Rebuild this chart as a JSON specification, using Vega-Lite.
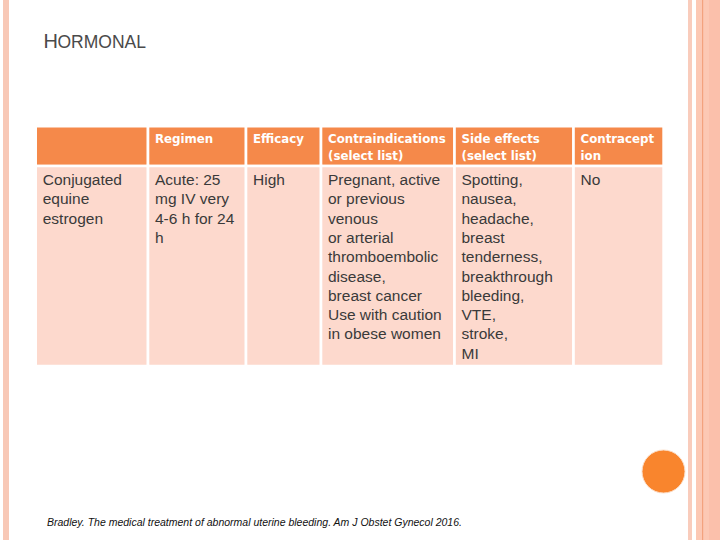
{
  "$schema": "https://vega.github.io/schema/vega-lite/v6.json",
  "width": 720,
  "height": 540,
  "padding": 0,
  "autosize": {"type": "none"},
  "background": "white",
  "config": {"view": {"stroke": null}},
  "resolve": {"scale": {"x": "independent", "y": "independent"}},
  "layer": [
    {
      "data": {"values": [{"part": "title_initial", "text": "H"}, {"part": "title_rest", "text": "ORMONAL"}, {"part": "source", "text": "Bradley. The medical treatment of abnormal uterine bleeding. Am J Obstet Gynecol 2016."}]},
      "layer": [
        {
          "transform": [{"filter": "datum.part === 'title_initial'"}],
          "mark": {"type": "rect", "fill": "#F8C8B6"},
          "encoding": {
            "x": {"datum": 3, "type": "quantitative", "scale": {"domain": [0, 720], "nice": false, "zero": false}, "axis": null},
            "x2": {"datum": 9},
            "y": {"datum": 0, "type": "quantitative", "scale": {"domain": [0, 540], "nice": false, "zero": false, "reverse": true}, "axis": null},
            "y2": {"datum": 540}
          }
        },
        {
          "transform": [{"filter": "datum.part === 'title_initial'"}],
          "mark": {"type": "rect", "fill": "#F9CCBC"},
          "encoding": {
            "x": {"datum": 688, "type": "quantitative", "scale": {"domain": [0, 720], "nice": false, "zero": false}, "axis": null},
            "x2": {"datum": 692},
            "y": {"datum": 0, "type": "quantitative", "scale": {"domain": [0, 540], "nice": false, "zero": false, "reverse": true}, "axis": null},
            "y2": {"datum": 540}
          }
        },
        {
          "transform": [{"filter": "datum.part === 'title_initial'"}],
          "mark": {"type": "rect", "fill": "#FCC8B4"},
          "encoding": {
            "x": {"datum": 696, "type": "quantitative", "scale": {"domain": [0, 720], "nice": false, "zero": false}, "axis": null},
            "x2": {"datum": 709},
            "y": {"datum": 0, "type": "quantitative", "scale": {"domain": [0, 540], "nice": false, "zero": false, "reverse": true}, "axis": null},
            "y2": {"datum": 540}
          }
        },
        {
          "transform": [{"filter": "datum.part === 'title_initial'"}],
          "mark": {"type": "rect", "fill": "#F3A27E"},
          "encoding": {
            "x": {"datum": 702, "type": "quantitative", "scale": {"domain": [0, 720], "nice": false, "zero": false}, "axis": null},
            "x2": {"datum": 703.2},
            "y": {"datum": 0, "type": "quantitative", "scale": {"domain": [0, 540], "nice": false, "zero": false, "reverse": true}, "axis": null},
            "y2": {"datum": 540}
          }
        },
        {
          "transform": [{"filter": "datum.part === 'title_initial'"}],
          "mark": {"type": "rect", "fill": "#FBC0AB"},
          "encoding": {
            "x": {"datum": 709, "type": "quantitative", "scale": {"domain": [0, 720], "nice": false, "zero": false}, "axis": null},
            "x2": {"datum": 720},
            "y": {"datum": 0, "type": "quantitative", "scale": {"domain": [0, 540], "nice": false, "zero": false, "reverse": true}, "axis": null},
            "y2": {"datum": 540}
          }
        },
        {
          "transform": [{"filter": "datum.part === 'title_initial'"}],
          "mark": {"type": "point", "filled": true, "fill": "#F9852D", "stroke": "#FCE0CC", "strokeWidth": 1, "opacity": 1, "size": 1850},
          "encoding": {
            "x": {"datum": 663.5, "type": "quantitative", "scale": {"domain": [0, 720], "nice": false, "zero": false}, "axis": null},
            "y": {"datum": 471.5, "type": "quantitative", "scale": {"domain": [0, 540], "nice": false, "zero": false, "reverse": true}, "axis": null}
          }
        },
        {
          "transform": [{"filter": "datum.part === 'title_initial'"}],
          "mark": {"type": "text", "align": "left", "baseline": "alphabetic", "font": "Liberation Sans", "fontSize": 20, "fill": "#4A4A4A"},
          "encoding": {
            "x": {"datum": 43.5, "type": "quantitative", "scale": {"domain": [0, 720], "nice": false, "zero": false}, "axis": null},
            "y": {"datum": 47.5, "type": "quantitative", "scale": {"domain": [0, 540], "nice": false, "zero": false, "reverse": true}, "axis": null},
            "text": {"field": "text"}
          }
        },
        {
          "transform": [{"filter": "datum.part === 'title_rest'"}],
          "mark": {"type": "text", "align": "left", "baseline": "alphabetic", "font": "Liberation Sans", "fontSize": 17.5, "fill": "#4A4A4A"},
          "encoding": {
            "x": {"datum": 57.5, "type": "quantitative", "scale": {"domain": [0, 720], "nice": false, "zero": false}, "axis": null},
            "y": {"datum": 47.5, "type": "quantitative", "scale": {"domain": [0, 540], "nice": false, "zero": false, "reverse": true}, "axis": null},
            "text": {"field": "text"}
          }
        },
        {
          "transform": [{"filter": "datum.part === 'source'"}],
          "mark": {"type": "text", "align": "left", "baseline": "alphabetic", "font": "Liberation Sans", "fontStyle": "italic", "fontSize": 10.5, "fill": "#111111"},
          "encoding": {
            "x": {"datum": 47, "type": "quantitative", "scale": {"domain": [0, 720], "nice": false, "zero": false}, "axis": null},
            "y": {"datum": 525.5, "type": "quantitative", "scale": {"domain": [0, 540], "nice": false, "zero": false, "reverse": true}, "axis": null},
            "text": {"field": "text"}
          }
        }
      ]
    },
    {
      "data": {"values": [
        {"section": "header", "row": 0, "rowEnd": 1, "col": 0, "colEnd": 1, "text": ""},
        {"section": "header", "row": 0, "rowEnd": 1, "col": 1, "colEnd": 2, "text": "Regimen"},
        {"section": "header", "row": 0, "rowEnd": 1, "col": 2, "colEnd": 3, "text": "Efficacy"},
        {"section": "header", "row": 0, "rowEnd": 1, "col": 3, "colEnd": 4, "text": "Contraindications\n(select list)"},
        {"section": "header", "row": 0, "rowEnd": 1, "col": 4, "colEnd": 5, "text": "Side effects\n(select  list)"},
        {"section": "header", "row": 0, "rowEnd": 1, "col": 5, "colEnd": 6, "text": "Contracept\nion"},
        {"section": "body", "row": 1, "rowEnd": 2, "col": 0, "colEnd": 1, "text": "Conjugated\nequine\nestrogen"},
        {"section": "body", "row": 1, "rowEnd": 2, "col": 1, "colEnd": 2, "text": "Acute: 25\nmg IV very\n4-6 h for 24\nh"},
        {"section": "body", "row": 1, "rowEnd": 2, "col": 2, "colEnd": 3, "text": "High"},
        {"section": "body", "row": 1, "rowEnd": 2, "col": 3, "colEnd": 4, "text": "Pregnant, active\nor previous\nvenous\nor arterial\nthromboembolic\ndisease,\nbreast cancer\nUse with caution\nin obese women"},
        {"section": "body", "row": 1, "rowEnd": 2, "col": 4, "colEnd": 5, "text": "Spotting,\nnausea,\nheadache,\nbreast\ntenderness,\nbreakthrough\nbleeding,\nVTE,\nstroke,\nMI"},
        {"section": "body", "row": 1, "rowEnd": 2, "col": 5, "colEnd": 6, "text": "No"}
      ]},
      "encoding": {
        "x": {"field": "col", "type": "quantitative", "scale": {"domain": [0, 1, 2, 3, 4, 5, 6], "range": [35.7, 148, 246, 321, 454.5, 573.5, 663.6], "nice": false, "zero": false}, "axis": null},
        "y": {"field": "row", "type": "quantitative", "scale": {"domain": [0, 1, 2], "range": [126.3, 166, 366], "nice": false, "zero": false}, "axis": null}
      },
      "layer": [
        {
          "mark": {"type": "rect", "stroke": "white", "strokeWidth": 2.6},
          "encoding": {
            "x2": {"field": "colEnd"},
            "y2": {"field": "rowEnd"},
            "color": {"field": "section", "type": "nominal", "scale": {"domain": ["header", "body"], "range": ["#F5894A", "#FDD9CD"]}, "legend": null}
          }
        },
        {
          "transform": [{"filter": "datum.section === 'header'"}],
          "mark": {"type": "text", "align": "left", "baseline": "alphabetic", "dx": 7, "dy": 16.2, "font": "DejaVu Sans", "fontWeight": "bold", "fontSize": 11.8, "lineHeight": 17, "lineBreak": "\n", "fill": "white"},
          "encoding": {"text": {"field": "text"}}
        },
        {
          "transform": [{"filter": "datum.section === 'body'"}],
          "mark": {"type": "text", "align": "left", "baseline": "alphabetic", "dx": 7, "dy": 19, "font": "Liberation Sans", "fontSize": 15.5, "lineHeight": 19.3, "lineBreak": "\n", "fill": "#3A3A3A"},
          "encoding": {"text": {"field": "text"}}
        }
      ]
    }
  ]
}
